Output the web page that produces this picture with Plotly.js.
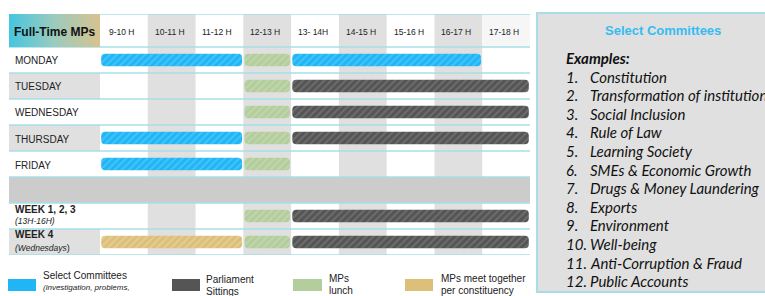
<!DOCTYPE html>
<html><head><meta charset="utf-8">
<script src="https://cdn.plot.ly/plotly-3.0.1.min.js"></script>
<style>html,body{margin:0;padding:0;background:#fff}#chart{width:765px;height:296px}</style>
</head><body><div id="chart"></div>
<script>
// ---------- data ----------
const hourStarts = [9, 10, 11, 12, 13, 14, 15, 16, 17];
const hourLabels = ['9-10 H', '10-11 H', '11-12 H', '12-13 H', '13- 14H', '14-15 H', '15-16 H', '16-17 H', '17-18 H'];
const rows = ['MONDAY', 'TUESDAY', 'WEDNESDAY', 'THURSDAY', 'FRIDAY', '', 'WEEK 1, 2, 3', 'WEEK 4'];
const rowNotes = ['', '', '', '', '', '', '(13H-16H)', '(Wednesdays'];

const committeeRows = ['MONDAY', 'MONDAY', 'THURSDAY', 'FRIDAY'];
const committeeStart = [9, 13, 9, 9];
const committeeEnd = [12, 17, 12, 12];

const sittingRows = ['TUESDAY', 'WEDNESDAY', 'THURSDAY', 'WEEK 1, 2, 3', 'WEEK 4'];
const sittingStart = [13, 13, 13, 13, 13];
const sittingEnd = [18, 18, 18, 18, 18];

const lunchRows = ['MONDAY', 'TUESDAY', 'WEDNESDAY', 'THURSDAY', 'FRIDAY', 'WEEK 1, 2, 3', 'WEEK 4'];
const lunchStart = [12, 12, 12, 12, 12, 12, 12];
const lunchEnd = [13, 13, 13, 13, 13, 13, 13];

const constituencyRows = ['WEEK 4'];
const constituencyStart = [9];
const constituencyEnd = [12];

const legendTitles = ['Select Committees', 'Parliament', 'MPs', 'MPs meet together'];
const legendSubs = ['<i>(investigation, problems,</i>', 'Sittings', 'lunch', 'per constituency'];

const panelTitle = 'Select Committees';
const committeeList = ['Constitution', 'Transformation of institutions', 'Social Inclusion', 'Rule of Law',
  'Learning Society', 'SMEs & Economic Growth', 'Drugs & Money Laundering', 'Exports', 'Environment',
  'Well-being', 'Anti-Corruption & Fraud', 'Public Accounts'];

// ---------- styling / geometry ----------
const W = 765, H = 296;
const px = x => x / W, py = y => 1 - y / H;
const HOUR_PX = 47.78;
const xMin = 9 - 91 / HOUR_PX, xMax = 18;
const yTop = -0.5 - 33 / 26, yBot = 7.5;
const gap = 0.025;
const FONT = 'Liberation Sans, Arial, sans-serif';
const TXT = '#222';

const blue = '#20b6f6', blueFg = '#47c4f8';
const dark = '#555555', darkFg = '#6e6e6e';
const green = '#b4cd9c', greenFg = '#c1d6ad';
const tan = '#dcbf79', tanFg = '#e5cd95';

function barTrace(rowsArr, start, end, color, fg) {
  return {
    type: 'bar', orientation: 'h',
    y: rowsArr.map(r => rows.indexOf(r)),
    base: start.map(s => s + gap),
    x: start.map((s, i) => end[i] - s - 2 * gap),
    width: 0.48,
    marker: { color: color, line: { width: 0 },
      pattern: { shape: '/', bgcolor: color, fgcolor: fg, size: 5, solidity: 0.35 } },
    hoverinfo: 'skip', showlegend: false
  };
}

const traces = [
  { type: 'scatter', mode: 'lines', x: [xMin, 9, 9, xMin, xMin], y: [yTop, yTop, -0.5, -0.5, yTop],
    fill: 'toself', line: { width: 0 },
    fillgradient: { type: 'horizontal', colorscale: [[0, '#45c6df'], [0.5, '#9ccbbd'], [1, '#d8c28f']] },
    hoverinfo: 'skip', showlegend: false },
  barTrace(committeeRows, committeeStart, committeeEnd, blue, blueFg),
  barTrace(sittingRows, sittingStart, sittingEnd, dark, darkFg),
  barTrace(lunchRows, lunchStart, lunchEnd, green, greenFg),
  barTrace(constituencyRows, constituencyStart, constituencyEnd, tan, tanFg)
];

const shapes = [];
hourStarts.forEach((h, i) => {
  if (i % 2 === 1) shapes.push({ type: 'rect', xref: 'x', yref: 'y', x0: h, x1: h + 1, y0: yTop, y1: yBot,
    fillcolor: '#e0e0e0', line: { width: 0 }, layer: 'below' });
});
shapes.push({ type: 'rect', xref: 'x', yref: 'y', x0: 17, x1: 18, y0: yTop, y1: -0.5,
  fillcolor: '#f6f6f6', line: { width: 0 }, layer: 'below' });
rows.forEach((r, i) => {
  if (i === 1 || i === 3 || i === 7) shapes.push({ type: 'rect', xref: 'x', yref: 'y', x0: xMin, x1: 9,
    y0: i - 0.5, y1: i + 0.5, fillcolor: '#e0e0e0', line: { width: 0 }, layer: 'below' });
  if (r === '') shapes.push({ type: 'rect', xref: 'x', yref: 'y', x0: xMin, x1: xMax,
    y0: i - 0.5, y1: i + 0.5, fillcolor: '#cccccc', line: { width: 0 }, layer: 'below' });
});
[yTop].concat(rows.map((r, i) => i - 0.5), [yBot]).forEach(y => {
  shapes.push({ type: 'line', xref: 'x', yref: 'y', x0: xMin, x1: xMax, y0: y, y1: y,
    line: { color: '#a6dfe7', width: 1.5 }, layer: 'below' });
});
shapes.push({ type: 'rect', xref: 'paper', yref: 'paper', x0: px(537), x1: px(800), y0: py(292), y1: py(13),
  fillcolor: '#e0e0e0', line: { color: '#a9dde5', width: 2 }, layer: 'below' });
const swatch = [[8, 36, blue], [172, 200, dark], [293, 322, green], [405, 433, tan]];
swatch.forEach(s => shapes.push({ type: 'rect', xref: 'paper', yref: 'paper', x0: px(s[0]), x1: px(s[1]),
  y0: py(291), y1: py(279), fillcolor: s[2], line: { width: 0 }, layer: 'below' }));

const ann = [];
const A = o => ann.push(Object.assign({ showarrow: false, xanchor: 'center', yanchor: 'middle',
  font: { family: FONT, size: 10, color: TXT } }, o));
A({ xref: 'x', yref: 'y', x: (xMin + 9) / 2, y: (yTop - 0.5) / 2, yshift: -1.5, text: '<b>Full-Time MPs</b>',
  font: { family: FONT, size: 12, color: '#111' } });
hourStarts.forEach((h, i) => A({ xref: 'x', yref: 'y', x: h + 0.5, y: (yTop - 0.5) / 2, xshift: -2, yshift: -1.5,
  text: hourLabels[i], font: { family: FONT, size: 8.5, color: TXT } }));
rows.forEach((r, i) => {
  if (!r) return;
  if (rowNotes[i]) {
    A({ xref: 'paper', yref: 'y', x: px(13), y: i, xanchor: 'left', yshift: i === 7 ? 8 : 7, text: '<b>' + r + '</b>' });
    A({ xref: 'paper', yref: 'y', x: px(13), y: i, xanchor: 'left', yshift: i === 7 ? -6 : -5,
      text: '<i>' + rowNotes[i] + '</i>' + (i === 7 ? '<span style="font-size:9px">)</span>' : ''),
      font: { family: FONT, size: 8.5, color: TXT } });
  } else {
    A({ xref: 'paper', yref: 'y', x: px(13), y: i, xanchor: 'left', yshift: -1, text: r });
  }
});
const legX = [41, 204, 327, 439];
const legY1 = [275, 279, 278, 278];
const legY2 = [287.5, 291, 290, 290];
legendTitles.forEach((t, i) => {
  A({ xref: 'paper', yref: 'paper', x: px(legX[i]), y: py(legY1[i]), xanchor: 'left', text: t });
  A({ xref: 'paper', yref: 'paper', x: px(legX[i]), y: py(legY2[i]), xanchor: 'left', text: legendSubs[i],
    font: { family: FONT, size: i === 0 ? 8 : 10, color: TXT } });
});
A({ xref: 'paper', yref: 'paper', x: px(41), y: py(298), xanchor: 'left', text: '<i>solutions)</i>',
  font: { family: FONT, size: 8, color: TXT } });
A({ xref: 'paper', yref: 'paper', x: px(663), y: py(31), text: '<b>' + panelTitle + '</b>',
  font: { family: FONT, size: 13, color: '#35bcf3' } });
const PF = 'Lato, sans-serif';
const PS = 15;
A({ xref: 'paper', yref: 'paper', x: px(564), y: py(57.5), xanchor: 'left', text: '<b><i>Examples:</i></b>',
  font: { family: PF, size: PS, color: '#111' } });
committeeList.forEach((c, i) => {
  const y = py(76.5 + i * 18.6);
  A({ xref: 'paper', yref: 'paper', x: px(564), y: y, xanchor: 'left', text: '<i>' + (i + 1) + '.</i>',
    font: { family: PF, size: PS, color: '#111' } });
  A({ xref: 'paper', yref: 'paper', x: px(588), y: y, xanchor: 'left', text: '<i>' + c + '</i>',
    font: { family: PF, size: PS, color: '#111' } });
});

const layout = {
  width: W, height: H, margin: { l: 0, r: 0, t: 0, b: 0 },
  paper_bgcolor: '#ffffff', plot_bgcolor: 'rgba(0,0,0,0)',
  barmode: 'overlay', barcornerradius: 4, showlegend: false,
  xaxis: { domain: [px(9), px(530)], range: [xMin, xMax], visible: false, fixedrange: true },
  yaxis: { domain: [py(255), py(14)], range: [yBot, yTop], visible: false, fixedrange: true },
  shapes: shapes, annotations: ann
};
Plotly.newPlot('chart', traces, layout, { displayModeBar: false, staticPlot: true });
</script></body></html>
